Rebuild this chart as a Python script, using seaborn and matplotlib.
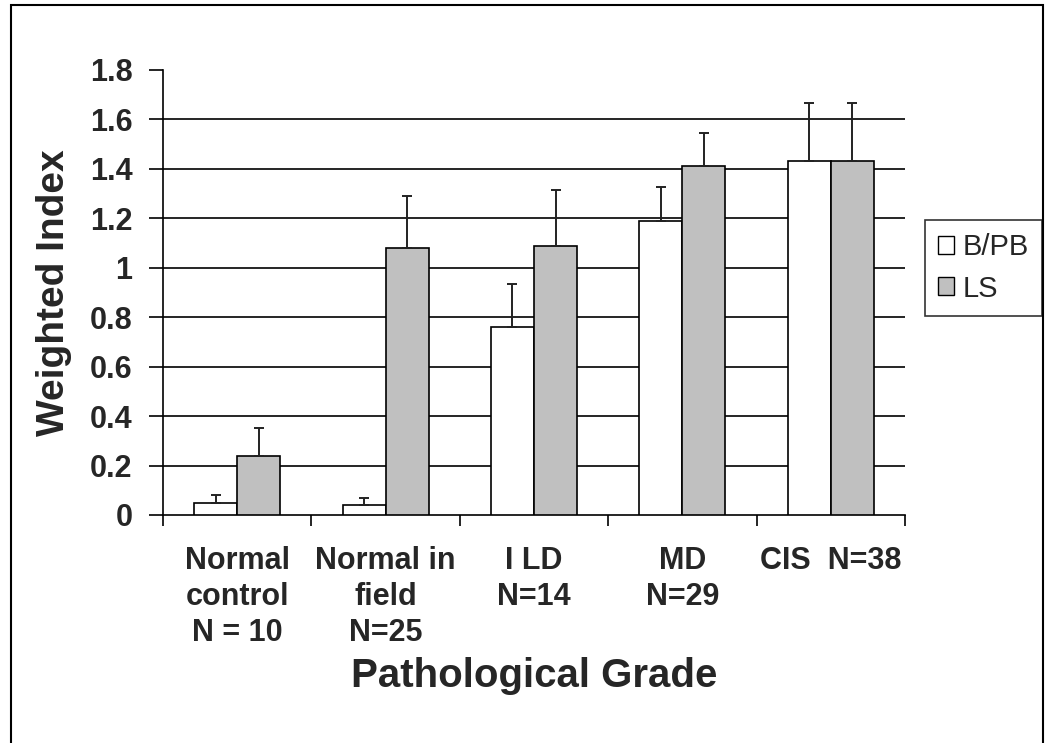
import matplotlib
matplotlib.use("Agg")
import matplotlib.pyplot as plt
import matplotlib.patches as mpatches
import seaborn as sns
import pandas as pd
import numpy as np

# ---- data ----
categories = ["Normal\ncontrol\nN = 10", "Normal in\nfield\nN=25", "I LD\nN=14", "MD\nN=29", "CIS  N=38"]
series = ["B/PB", "LS"]
bpb_values = [0.05, 0.04, 0.76, 1.19, 1.43]
ls_values = [0.24, 1.08, 1.09, 1.41, 1.43]
bpb_err = [0.03, 0.03, 0.175, 0.135, 0.235]
ls_err = [0.11, 0.21, 0.225, 0.135, 0.235]
y_ticks = [0, 0.2, 0.4, 0.6, 0.8, 1.0, 1.2, 1.4, 1.6, 1.8]

sns.set_theme(style="white")
plt.rcParams['font.family'] = ['Liberation Sans', 'DejaVu Sans']

df = pd.DataFrame({
    "Grade": categories * 2,
    "Series": [series[0]] * len(categories) + [series[1]] * len(categories),
    "Value": bpb_values + ls_values,
    "Err": bpb_err + ls_err,
})

fig = plt.figure(figsize=(10.5, 7.43), dpi=100)
ax = fig.add_axes([163 / 1050, 1 - 515 / 743, (905 - 163) / 1050, (515 - 70) / 743])

palette = {"B/PB": "#FFFFFF", "LS": "#C0C0C0"}
sns.barplot(data=df, x="Grade", y="Value", hue="Series", order=categories,
            hue_order=series, palette=palette, width=0.58, gap=0,
            errorbar=None, edgecolor="black", linewidth=1.2, ax=ax,
            legend=False, zorder=3)

# error bars (upper only) using bar positions from the axes
bars = [p for p in ax.patches if isinstance(p, mpatches.Rectangle)]
errs = bpb_err + ls_err
vals = bpb_values + ls_values
xs = [b.get_x() + b.get_width() / 2 for b in bars[:len(vals)]]
ax.errorbar(xs, vals, yerr=[np.zeros(len(vals)), errs], fmt="none",
            ecolor="#222222", elinewidth=1.4, capsize=3.5, capthick=1.4, zorder=4)

ax.set_ylim(0, 1.8)
ax.set_xlim(-0.5, len(categories) - 0.5)
ax.set_yticks(y_ticks)
ax.set_yticklabels([f"{v:g}" for v in y_ticks], fontsize=22, fontweight="bold")
ax.set_xticks(range(len(categories)))
ax.set_xticklabels(categories, fontsize=22, fontweight="bold", linespacing=1.28)
ax.set_xticks(np.arange(-0.5, len(categories)), minor=True)
ax.tick_params(axis="x", which="major", length=0, pad=22)
ax.tick_params(axis="x", which="minor", length=8, width=1.2, color="black", direction="out", bottom=True)
ax.tick_params(axis="y", which="major", length=10, width=1.2, color="black", direction="out", left=True, pad=12)

ax.yaxis.grid(True, color="black", linewidth=1.2)
ax.set_axisbelow(True)
gl = ax.get_ygridlines()
gl[0].set_visible(False)
gl[-1].set_visible(False)

for s in ["top", "right"]:
    ax.spines[s].set_visible(False)
for s in ["left", "bottom"]:
    ax.spines[s].set_color("black")
    ax.spines[s].set_linewidth(1.2)

ax.set_ylabel("Weighted Index", fontsize=28, fontweight="bold", labelpad=13)
ax.set_xlabel("Pathological Grade", fontsize=29, fontweight="bold", labelpad=6)

handles = [mpatches.Patch(facecolor=palette[s], edgecolor="black", linewidth=1.0, label=s) for s in series]
leg = fig.legend(handles=handles, loc="center left", bbox_to_anchor=(925 / 1050, 1 - 268 / 743),
                 bbox_transform=fig.transFigure, fontsize=21, frameon=True, fancybox=False,
                 edgecolor="black", handlelength=0.55, handleheight=0.55, handletextpad=0.3,
                 borderpad=0.45, labelspacing=0.45, borderaxespad=0)
leg.get_frame().set_linewidth(1.2)

# outer frame
fig.patches.append(mpatches.Rectangle((11 / 1050, -0.01), (1043 - 11) / 1050, (743 - 5) / 743 + 0.01,
                                      transform=fig.transFigure, fill=False, edgecolor="black",
                                      linewidth=1.5))

fig.savefig("out.png", dpi=100)
